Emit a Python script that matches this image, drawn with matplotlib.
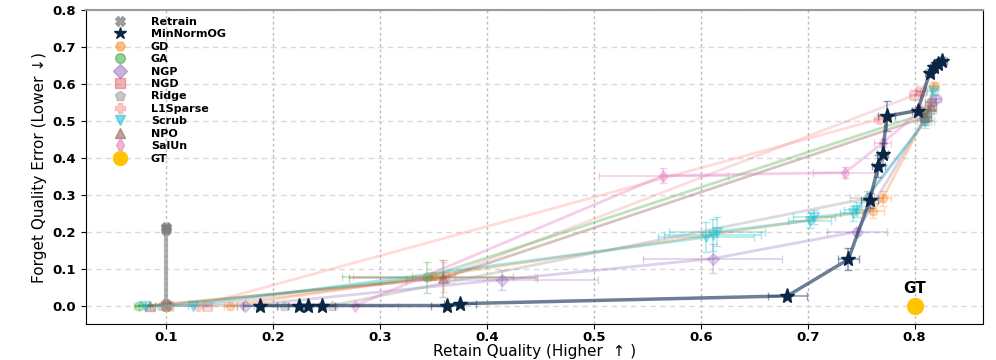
import matplotlib
matplotlib.use("Agg")
import matplotlib.pyplot as plt
from matplotlib.lines import Line2D

# ---------------- data ----------------
methods = ["Retrain", "MinNormOG", "GD", "GA", "NGP", "NGD", "Ridge",
           "L1Sparse", "Scrub", "NPO", "SalUn"]

retrain_x = [0.1, 0.1, 0.1, 0.1, 0.1]
retrain_y = [0.0, 0.005, 0.205, 0.21, 0.214]
retrain_xerr = [0.002, 0.002, 0.002, 0.002, 0.002]
retrain_yerr = [0.002, 0.002, 0.004, 0.004, 0.004]

mnog_x = [0.188, 0.224, 0.233, 0.246, 0.363, 0.375, 0.681, 0.738, 0.758,
          0.766, 0.770, 0.774, 0.803, 0.814, 0.818, 0.822, 0.826]
mnog_y = [0.0, 0.0, 0.0, 0.0, 0.0, 0.005, 0.026, 0.125, 0.285,
          0.377, 0.41, 0.513, 0.528, 0.63, 0.645, 0.655, 0.662]
mnog_xerr = [0.016, 0.01, 0.01, 0.012, 0.015, 0.015, 0.018, 0.01, 0.008,
             0.006, 0.005, 0.008, 0.005, 0.004, 0.004, 0.004, 0.004]
mnog_yerr = [0.002, 0.002, 0.002, 0.002, 0.002, 0.003, 0.005, 0.03, 0.02,
             0.03, 0.03, 0.04, 0.01, 0.01, 0.01, 0.01, 0.01]

gd_x = [0.16, 0.35, 0.761, 0.77, 0.81, 0.818]
gd_y = [0.0, 0.08, 0.257, 0.29, 0.51, 0.595]
gd_xerr = [0.006, 0.02, 0.01, 0.008, 0.005, 0.005]
gd_yerr = [0.002, 0.01, 0.02, 0.02, 0.01, 0.01]

ga_x = [0.075, 0.1, 0.344, 0.81, 0.815]
ga_y = [0.0, 0.0, 0.076, 0.52, 0.55]
ga_xerr = [0.005, 0.005, 0.08, 0.005, 0.005]
ga_yerr = [0.002, 0.002, 0.043, 0.01, 0.01]

ngp_x = [0.174, 0.414, 0.611, 0.746, 0.81, 0.82]
ngp_y = [0.0, 0.07, 0.127, 0.2, 0.51, 0.56]
ngp_xerr = [0.008, 0.09, 0.065, 0.028, 0.005, 0.005]
ngp_yerr = [0.002, 0.027, 0.04, 0.01, 0.01, 0.01]

ngd_x = [0.102, 0.138, 0.36, 0.80, 0.806]
ngd_y = [0.0, 0.0, 0.078, 0.57, 0.58]
ngd_xerr = [0.004, 0.004, 0.085, 0.005, 0.005]
ngd_yerr = [0.002, 0.002, 0.04, 0.01, 0.01]

ridge_x = [0.095, 0.21, 0.255, 0.755, 0.81, 0.815]
ridge_y = [0.0, 0.0, 0.0, 0.29, 0.5, 0.53]
ridge_xerr = [0.005, 0.005, 0.005, 0.015, 0.008, 0.005]
ridge_yerr = [0.002, 0.002, 0.002, 0.02, 0.02, 0.01]

l1_x = [0.1, 0.13, 0.767, 0.805]
l1_y = [0.0, 0.0, 0.505, 0.53]
l1_xerr = [0.004, 0.004, 0.005, 0.005]
l1_yerr = [0.002, 0.002, 0.01, 0.01]

scrub_x = [0.08, 0.125, 0.605, 0.611, 0.615, 0.702, 0.706, 0.742, 0.746, 0.81, 0.817]
scrub_y = [0.0, 0.0, 0.185, 0.19, 0.2, 0.23, 0.24, 0.25, 0.26, 0.5, 0.58]
scrub_xerr = [0.005, 0.005, 0.045, 0.045, 0.045, 0.02, 0.02, 0.012, 0.012, 0.005, 0.005]
scrub_yerr = [0.002, 0.002, 0.04, 0.043, 0.04, 0.02, 0.02, 0.02, 0.02, 0.01, 0.01]

npo_x = [0.085, 0.359, 0.81, 0.815]
npo_y = [0.0, 0.074, 0.51, 0.54]
npo_xerr = [0.005, 0.088, 0.005, 0.005]
npo_yerr = [0.002, 0.05, 0.01, 0.01]

salun_x = [0.277, 0.565, 0.735, 0.77, 0.815]
salun_y = [0.0, 0.352, 0.36, 0.44, 0.55]
salun_xerr = [0.04, 0.06, 0.03, 0.008, 0.005]
salun_yerr = [0.002, 0.02, 0.015, 0.01, 0.01]

gt_x = [0.8]
gt_y = [0.0]

x_ticks = [0.1, 0.2, 0.3, 0.4, 0.5, 0.6, 0.7, 0.8]
y_ticks = [0.0, 0.1, 0.2, 0.3, 0.4, 0.5, 0.6, 0.7, 0.8]

# ---------------- styles ----------------
styles = {
    "Retrain":  dict(color="#7f7f7f", marker="X", alpha=0.6, lw=3.0),
    "GD":       dict(color="#ff7f0e", marker="H", alpha=0.3, lw=2.0),
    "GA":       dict(color="#2ca02c", marker="o", alpha=0.3, lw=2.0),
    "NGP":      dict(color="#9467bd", marker="D", alpha=0.3, lw=2.0),
    "NGD":      dict(color="#d62728", marker="s", alpha=0.15, lw=2.0),
    "Ridge":    dict(color="#9a9a9a", marker="p", alpha=0.35, lw=2.0),
    "L1Sparse": dict(color="#ff9896", marker="P", alpha=0.35, lw=2.0),
    "Scrub":    dict(color="#17becf", marker="v", alpha=0.35, lw=2.0),
    "NPO":      dict(color="#8c564b", marker="^", alpha=0.35, lw=2.0),
    "SalUn":    dict(color="#e377c2", marker="d", alpha=0.35, lw=2.0),
}
series = {
    "Retrain": (retrain_x, retrain_y, retrain_xerr, retrain_yerr),
    "GD": (gd_x, gd_y, gd_xerr, gd_yerr),
    "GA": (ga_x, ga_y, ga_xerr, ga_yerr),
    "NGP": (ngp_x, ngp_y, ngp_xerr, ngp_yerr),
    "NGD": (ngd_x, ngd_y, ngd_xerr, ngd_yerr),
    "Ridge": (ridge_x, ridge_y, ridge_xerr, ridge_yerr),
    "L1Sparse": (l1_x, l1_y, l1_xerr, l1_yerr),
    "Scrub": (scrub_x, scrub_y, scrub_xerr, scrub_yerr),
    "NPO": (npo_x, npo_y, npo_xerr, npo_yerr),
    "SalUn": (salun_x, salun_y, salun_xerr, salun_yerr),
}
mnog_color = "#0b2545"

fig = plt.figure(figsize=(9.96, 3.6), dpi=100)
ax = fig.add_axes([0.0863, 0.1, 0.9007, 0.872])

for name in ["Retrain", "NGD", "GD", "GA", "NGP", "Ridge", "L1Sparse",
             "Scrub", "NPO", "SalUn"]:
    x, y, xe, ye = series[name]
    st = styles[name]
    ax.errorbar(x, y, xerr=xe, yerr=ye, color=st["color"], alpha=st["alpha"],
                lw=st["lw"], marker=st["marker"], ms=6.5, capsize=3,
                elinewidth=1.2, zorder=2)

# MinNormOG
ax.errorbar(mnog_x, mnog_y, xerr=mnog_xerr, yerr=mnog_yerr, fmt="none",
            ecolor="#4a6080", alpha=0.6, elinewidth=1.2, capsize=3, zorder=3)
ax.plot(mnog_x, mnog_y, color="#1f3b5c", alpha=0.65, lw=2.5, zorder=3)
ax.plot(mnog_x, mnog_y, linestyle="none", marker="*", ms=11,
        color=mnog_color, zorder=4)

# GT
ax.scatter(gt_x, gt_y, s=130, color="#ffc300", zorder=5)
ax.annotate("GT", (gt_x[0], gt_y[0]), xytext=(0, 7), textcoords="offset points",
            ha="center", va="bottom", fontsize=11, fontweight="bold")

ax.set_xlim(0.025, 0.864)
ax.set_ylim(-0.05, 0.8)
ax.set_xticks(x_ticks)
ax.set_yticks(y_ticks)
ax.set_xticklabels([f"{v:.1f}" for v in x_ticks], fontsize=9.5, fontweight="bold")
ax.set_yticklabels([f"{v:.1f}" for v in y_ticks], fontsize=9.5, fontweight="bold")
ax.tick_params(axis="x", pad=1.5)
ax.xaxis.grid(True, linestyle=(0, (2, 2)), color="#bdbdbd", lw=1.0)
ax.yaxis.grid(True, linestyle=(0, (4, 3)), color="#d9d9d9", lw=1.0)
ax.set_axisbelow(True)
ax.spines["top"].set_color("#999999")
ax.spines["top"].set_linewidth(1.5)

ax.set_xlabel("Retain Quality (Higher  \u2191 )", fontsize=11, labelpad=0)
ax.set_ylabel("Forget Quality Error (Lower \u2193)", fontsize=11,
              family=["Liberation Sans Narrow", "DejaVu Sans"])

# legend
handles = []
labels = []
for name in methods:
    if name == "MinNormOG":
        h = Line2D([], [], linestyle="none", marker="*", ms=9, color=mnog_color)
    else:
        st = styles[name]
        h = Line2D([], [], linestyle="none", marker=st["marker"], ms=7,
                   color=st["color"], alpha=min(st["alpha"] + 0.2, 0.7))
    handles.append(h)
    labels.append(name)
handles.append(Line2D([], [], linestyle="none", marker="o", ms=10, color="#ffc300"))
labels.append("GT")
ax.legend(handles, labels, loc="upper left", frameon=False,
          prop=dict(size=8, weight="bold"), labelspacing=0.22,
          handletextpad=1.8, bbox_to_anchor=(0.018, 1.0), borderaxespad=0.2)

fig.savefig("out.png", dpi=100)
